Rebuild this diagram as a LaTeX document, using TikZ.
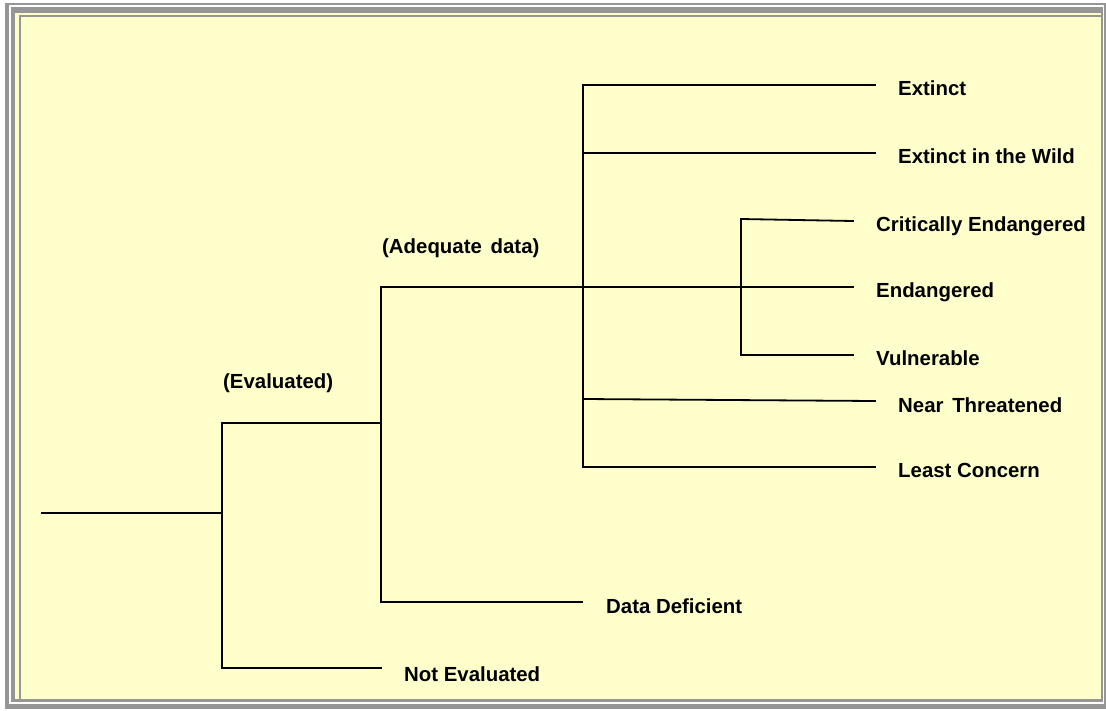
\documentclass[tikz,border=0pt]{standalone}
\usepackage{fontspec}
\setmainfont{Liberation Sans}
\definecolor{framegray}{HTML}{969696}
\definecolor{paper}{HTML}{FFFFCC}
\tikzset{
  lbl/.style={anchor=base west, inner sep=0pt, font=\fontsize{20.4}{24}\selectfont\bfseries},
  branch/.style={line width=1.8pt, black, line cap=rect},
}
\begin{document}
\begin{tikzpicture}[x=1pt, y=-1pt]
\useasboundingbox (0,0) rectangle (1106,710);
% frame
\fill[white] (0,0) rectangle (1106,710);
\fill[framegray] (5,3) rectangle (1106,709);
\fill[white] (9,5) rectangle (1104,704);
\fill[framegray] (11,7) rectangle (1103,702);
\fill[paper] (15,13) rectangle (1101,699);
\fill[framegray] (19,15) rectangle (1101,699);
\fill[paper] (21,17) rectangle (1101,699);

% labels
\node[lbl] (ex)  at (898,95)  {Extinct};
\node[lbl] (ew)  at (898,163) {Extinct in the Wild};
\node[lbl] (cr)  at (876,231) {Critically Endangered};
\node[lbl] (en)  at (876,297) {Endangered};
\node[lbl] (vu)  at (876,365) {Vulnerable};
\node[lbl] (nt)  at (898,412) {Near\hspace{0.15em} Threatened};
\node[lbl] (lc)  at (898,477) {Least Concern};
\node[lbl] (dd)  at (606,613) {Data Deficient};
\node[lbl] (ne)  at (404,681) {Not Evaluated};
\node[lbl] (evl) at (223,388) {(Evaluated)};
\node[lbl] (adq) at (382,253) {(Adequate\hspace{0.15em} data)};

% branch points
\coordinate (root) at (42,513);
\coordinate (b1t) at (222,423);
\coordinate (b1b) at (222,668);
\coordinate (b1m) at (222,513);
\coordinate (b2t) at (381,287);
\coordinate (b2b) at (381,602);
\coordinate (b2m) at (381,423);
\coordinate (b3t) at (583,85);
\coordinate (b3b) at (583,467);
\coordinate (b3w) at (583,153);
\coordinate (b3n) at (583,399);
\coordinate (b4t) at (741,219);
\coordinate (b4b) at (741,355);
% line ends
\coordinate (eex) at (875,85);
\coordinate (eew) at (875,153);
\coordinate (ecr) at (853,221);
\coordinate (een) at (853,287);
\coordinate (evu) at (853,355);
\coordinate (ent) at (875,401);
\coordinate (elc) at (875,467);
\coordinate (edd) at (582,602);
\coordinate (ene) at (381,668);

% connectors
\draw[branch] (root) -- (b1m);
\draw[branch] (b1t) -- (b1b);
\draw[branch] (b1t) -- (b2m);
\draw[branch] (b1b) -- (ene);
\draw[branch] (b2t) -- (b2b);
\draw[branch] (b2b) -- (edd);
\draw[branch] (b2t) -- (een);
\draw[branch] (b3t) -- (b3b);
\draw[branch] (b3t) -- (eex);
\draw[branch] (b3w) -- (eew);
\draw[branch] (b3n) -- (ent);
\draw[branch] (b3b) -- (elc);
\draw[branch] (b4t) -- (b4b);
\draw[branch] (b4t) -- (ecr);
\draw[branch] (b4b) -- (evu);
\end{tikzpicture}
\end{document}
